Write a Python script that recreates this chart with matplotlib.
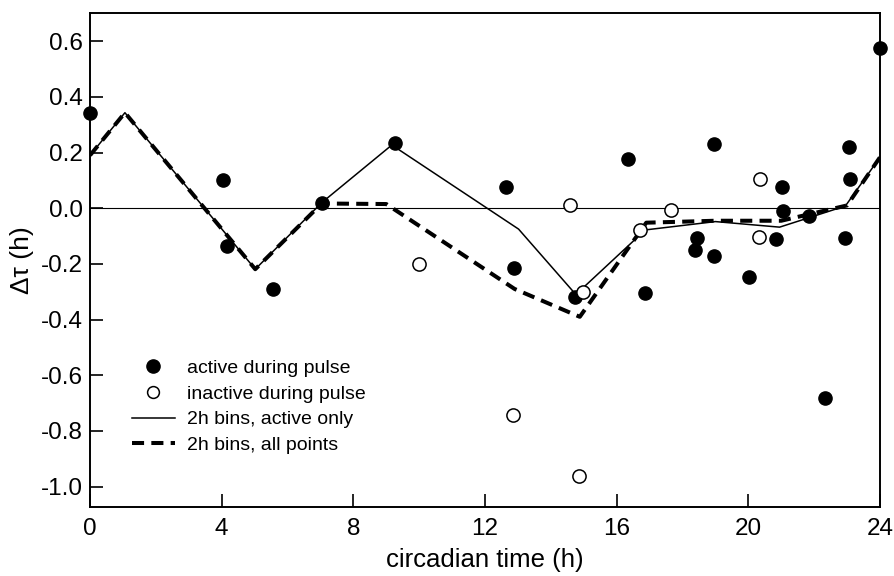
import matplotlib
matplotlib.use("Agg")
import matplotlib.pyplot as plt
from matplotlib.lines import Line2D

plt.rcParams['font.family'] = ['Liberation Sans', 'DejaVu Sans']

# active during pulse (filled)
active_x = [0.0, 4.04, 4.16, 5.56, 7.05, 9.27, 12.64, 12.87, 14.74, 16.34, 16.87,
            18.39, 18.44, 18.95, 18.95, 20.03, 20.85, 21.02, 21.05, 21.83, 22.34,
            22.95, 23.05, 23.08, 24.0]
active_y = [0.342, 0.10, -0.135, -0.29, 0.02, 0.233, 0.075, -0.216, -0.32, 0.176, -0.305,
            -0.150, -0.106, 0.231, -0.171, -0.246, -0.111, 0.075, -0.011, -0.028, -0.681,
            -0.108, 0.219, 0.104, 0.576]

# inactive during pulse (open)
inactive_x = [9.98, 12.84, 14.59, 14.87, 14.99, 16.70, 17.65, 20.33, 20.36]
inactive_y = [-0.201, -0.743, 0.011, -0.961, -0.302, -0.078, -0.006, -0.102, 0.104]

# 2h bins, active only
bins_active_x = [0.0, 1.06, 5.02, 7.04, 9.17, 13.02, 14.76, 16.87, 19.0, 20.95, 22.95, 24.0]
bins_active_y = [0.19, 0.343, -0.219, 0.02, 0.227, -0.075, -0.31, -0.078, -0.048, -0.068, 0.008, 0.183]

# 2h bins, all points
bins_all_x = [0.0, 1.06, 5.02, 7.04, 9.0, 12.9, 14.88, 16.9, 19.0, 21.0, 23.0, 24.0]
bins_all_y = [0.19, 0.343, -0.219, 0.017, 0.015, -0.29, -0.39, -0.052, -0.045, -0.045, 0.01, 0.183]

xticks = [0, 4, 8, 12, 16, 20, 24]
yticks = [-1.0, -0.8, -0.6, -0.4, -0.2, 0.0, 0.2, 0.4, 0.6]

fig = plt.figure(figsize=(8.95, 5.76), dpi=100)
ax = fig.add_axes([0.1006, 0.1203, 0.8826, 0.8566])

ax.axhline(0, color='black', lw=0.8, zorder=1)
ax.plot(bins_active_x, bins_active_y, color='black', lw=1.1, zorder=2,
        label='2h bins, active only')
ax.plot(bins_all_x, bins_all_y, color='black', lw=2.9, dashes=(3.0, 1.8), zorder=2,
        label='2h bins, all points')
ax.plot(active_x, active_y, 'o', color='black', ms=9.5, zorder=3, clip_on=False,
        label='active during pulse')
ax.plot(inactive_x, inactive_y, 'o', mfc='white', mec='black', mew=1.1, ms=9.5, zorder=4,
        clip_on=False, label='inactive during pulse')

ax.set_xlim(0, 24)
ax.set_ylim(-1.072, 0.70)
ax.set_xticks(xticks)
ax.set_xticklabels([str(t) for t in xticks])
ax.set_yticks(yticks)
ax.set_yticklabels(['%.1f' % t for t in yticks])
ax.tick_params(direction='in', length=9.5, width=1.2, labelsize=17.5,
               top=False, right=False)
ax.tick_params(axis='x', pad=8)
ax.tick_params(axis='y', pad=5)
for s in ax.spines.values():
    s.set_linewidth(1.4)

ax.set_xlabel('circadian time (h)', fontsize=18.5, labelpad=6)
ax.set_ylabel('Δτ (h)', fontsize=19, labelpad=5)

handles = [
    Line2D([], [], marker='o', ls='none', color='black', ms=9.5),
    Line2D([], [], marker='o', ls='none', mfc='white', mec='black', mew=1.1, ms=8.5),
    Line2D([], [], color='black', lw=1.1),
    Line2D([], [], color='black', lw=2.9, dashes=(3.0, 1.8)),
]
labels = ['active during pulse', 'inactive during pulse', '2h bins, active only',
          '2h bins, all points']
ax.legend(handles, labels, loc='upper left', bbox_to_anchor=(0.053, 0.298),
          frameon=False, fontsize=14, handlelength=2.2, handletextpad=0.65,
          labelspacing=0.41, borderpad=0, borderaxespad=0)

fig.savefig('out.png', dpi=100)
